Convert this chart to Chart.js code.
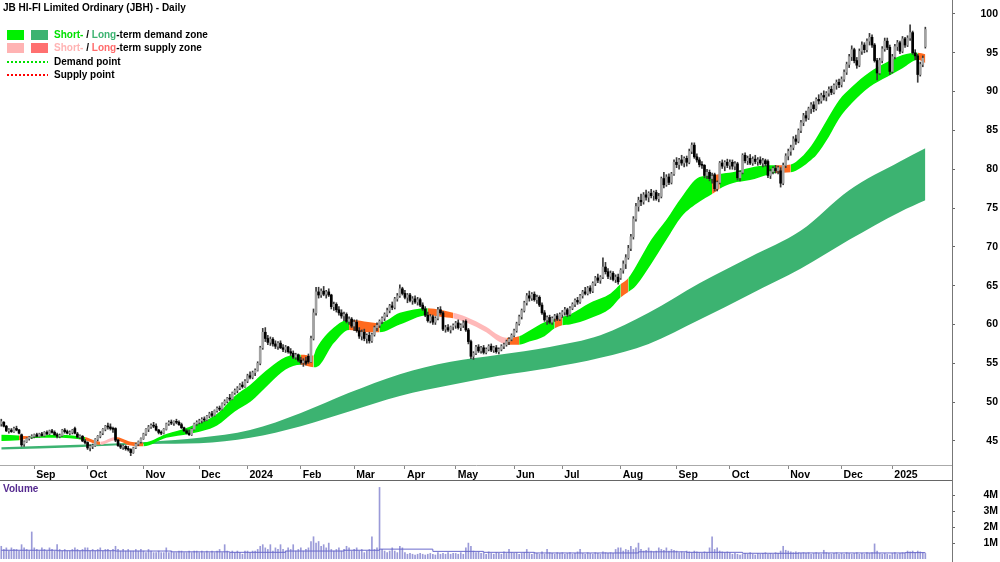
<!DOCTYPE html>
<html>
<head>
<meta charset="utf-8">
<script src="https://cdn.jsdelivr.net/npm/chart.js@4.4.1/dist/chart.umd.min.js"></script>
<style>
  html, body { margin: 0; padding: 0; background: #fff; }
  #wrap { position: relative; width: 1000px; height: 562px; overflow: hidden; font-family: "Liberation Sans", Arial, sans-serif; }
  canvas { position: absolute; left: 0; }
  #price { top: 0; }
  #volume { top: 481px; }
  .txt { position: absolute; font-weight: bold; font-size: 10px; line-height: 12px; white-space: nowrap; color: #000; }
  .sw { position: absolute; width: 17px; height: 10px; }
  .dots { position: absolute; width: 41px; height: 2px; }
</style>
</head>
<body>
<div id="wrap">
  <canvas id="price" width="1000" height="481"></canvas>
  <canvas id="volume" width="1000" height="81"></canvas>
  <div style="position:absolute;left:952px;top:0;width:1px;height:562px;background:#777"></div>
  <div style="position:absolute;left:0;top:480px;width:952px;height:1px;background:#666"></div>

  <div class="txt" style="left:3px;top:2px">JB HI-FI Limited Ordinary (JBH) - Daily</div>
  <div class="sw" style="left:7px;top:30px;background:#00f000"></div>
  <div class="sw" style="left:31px;top:30px;background:#3cb371"></div>
  <div class="txt" style="left:54px;top:29px"><span style="color:#00e000">Short-</span> / <span style="color:#3cb371">Long</span>-term demand zone</div>
  <div class="sw" style="left:7px;top:43px;background:#ffb3b3"></div>
  <div class="sw" style="left:31px;top:43px;background:#ff7070"></div>
  <div class="txt" style="left:54px;top:42px"><span style="color:#ffb3b3">Short-</span> / <span style="color:#ff6b6b">Long</span>-term supply zone</div>
  <div class="dots" style="left:7px;top:61px;background:repeating-linear-gradient(90deg,#00e000 0 2px,transparent 2px 4px)"></div>
  <div class="txt" style="left:54px;top:56px">Demand point</div>
  <div class="dots" style="left:7px;top:74px;background:repeating-linear-gradient(90deg,#ff0000 0 2px,transparent 2px 4px)"></div>
  <div class="txt" style="left:54px;top:69px">Supply point</div>
  <div class="txt" style="left:3px;top:483px;color:#552a8f">Volume</div>
</div>

<script>
// Daily candles, 15 Aug 2023 .. 21 Jan 2025 (index = trading day)
const opens = [
  47.2,47.4,46.9,46.3,46.4,46.2,46.6,46.4,45.8,44.6,44.9,45.3,45.5,
  45.6,45.8,45.6,45.9,45.7,46.1,45.9,46.3,46.1,45.8,45.6,45.7,46.4,46.2,46.0,46.1,46.6,45.9,45.5,45.6,45.0,
  44.8,44.1,44.3,44.4,45.2,45.6,46.0,46.5,46.9,46.8,46.6,46.6,45.1,44.4,44.2,44.3,44.0,43.9,43.5,44.1,44.6,44.9,
  45.3,45.9,46.5,46.8,47.0,46.9,46.4,46.1,46.0,46.5,47.2,47.4,47.3,47.5,47.4,47.1,46.7,46.3,46.0,45.8,46.5,47.2,
  47.4,47.6,47.8,47.7,48.2,48.5,48.3,48.9,49.2,49.1,49.8,50.1,50.5,50.4,51.2,51.5,51.8,52.2,52.0,
  52.7,53.4,53.2,53.8,54.1,55.0,57.0,59.0,58.2,57.7,58.1,57.5,57.2,57.6,57.0,56.8,57.1,56.5,56.3,55.8,56.1,
  55.4,55.1,55.3,55.9,55.2,58.2,61.5,64.2,63.8,64.3,63.9,64.2,63.8,62.3,62.6,61.9,61.5,61.1,61.3,60.4,60.7,
  59.8,60.3,59.2,58.5,59.0,58.2,58.6,57.9,58.7,59.6,59.9,60.4,60.8,61.3,61.8,62.4,62.2,63.3,63.7,64.6,
  64.0,63.5,63.8,63.1,63.3,62.9,63.2,62.5,62.0,61.2,60.5,61.0,60.3,60.8,61.9,61.5,59.4,59.6,59.3,59.7,
  59.9,60.2,59.6,59.9,60.4,59.3,57.8,55.9,56.3,57.1,56.6,57.0,56.4,56.8,57.2,56.7,57.0,56.5,56.8,57.2,57.4,57.8,58.1,
  58.6,59.2,60.1,61.0,61.8,62.8,63.7,63.4,63.9,63.2,63.5,62.5,61.5,60.6,60.9,60.3,60.8,61.1,60.7,
  61.3,61.6,61.9,61.3,62.1,62.6,63.1,62.9,63.7,64.2,64.0,64.7,64.3,65.3,66.0,65.7,66.1,67.4,66.8,66.2,66.6,65.8,66.1,
  66.0,67.0,67.8,68.6,69.8,71.3,73.6,75.2,76.0,75.8,76.7,76.4,76.9,76.6,77.0,76.2,76.5,78.8,78.0,79.0,78.3,79.4,
  80.9,80.6,81.2,80.8,81.4,80.9,82.3,83.1,81.6,81.2,80.6,80.5,79.2,79.6,78.8,79.3,77.5,78.3,80.8,80.4,80.9,
  80.5,80.9,80.4,80.7,78.9,79.6,81.8,81.1,81.4,80.8,81.3,81.0,81.2,80.8,81.1,81.0,79.2,79.7,80.1,79.8,79.8,78.2,80.5,
  81.7,82.3,82.8,83.9,83.6,85.0,86.0,86.9,86.6,87.8,88.3,87.8,89.0,88.8,89.5,89.3,89.8,90.3,89.9,90.8,91.2,
  90.9,91.6,92.5,93.5,94.5,95.4,94.0,93.4,95.2,96.0,95.4,96.5,97.0,96.0,94.0,92.4,94.0,95.5,96.5,95.7,
  92.6,94.5,95.8,96.3,95.2,96.8,96.0,96.9,97.6,95.0,94.6,92.2,93.5,95.8
];
const highs = [
  47.8,47.5,47.0,46.6,46.6,46.8,46.9,46.5,45.9,45.0,45.4,45.6,45.8,
  45.9,46.0,46.0,46.1,46.2,46.3,46.4,46.5,46.3,46.0,45.9,46.5,46.6,46.4,46.3,46.5,46.8,46.1,45.8,45.7,45.2,
  44.9,44.5,44.6,45.3,45.7,46.2,46.6,47.0,47.3,47.2,46.8,46.7,45.2,44.6,44.5,44.4,44.3,44.0,44.2,44.7,45.0,45.4,
  46.0,46.6,47.0,47.2,47.4,47.2,46.5,46.3,46.6,47.3,47.6,47.7,47.6,47.8,47.6,47.3,46.8,46.5,46.4,46.6,47.3,47.6,
  47.8,48.0,48.1,48.3,48.7,48.8,49.0,49.4,49.5,49.9,50.3,50.6,51.0,51.3,51.7,52.0,52.4,52.6,52.9,
  53.6,53.9,54.0,54.3,55.2,57.2,59.5,59.6,58.6,58.4,58.3,57.9,57.8,57.9,57.4,57.3,57.2,56.9,56.6,56.3,56.2,
  55.8,55.6,55.8,56.2,58.5,62.0,64.8,64.8,64.6,64.9,64.4,64.6,63.9,62.9,62.8,62.3,61.9,61.6,61.5,61.0,60.9,
  60.6,60.6,59.6,59.3,59.4,58.8,59.0,58.9,59.8,60.2,60.6,61.0,61.5,62.1,62.6,62.9,63.5,64.0,65.1,64.8,
  64.4,64.0,64.0,63.6,63.7,63.5,63.4,62.8,62.3,61.6,61.3,61.2,61.0,62.2,62.3,61.7,59.9,60.0,59.8,60.1,
  60.4,60.6,60.1,60.5,60.6,59.5,58.0,56.5,57.3,57.4,57.2,57.3,57.0,57.4,57.5,57.2,57.3,57.0,57.4,57.6,58.0,58.3,58.8,
  59.4,60.3,61.2,62.0,63.0,64.0,64.3,64.1,64.2,63.8,63.7,62.8,61.8,61.1,61.2,61.0,61.3,61.4,61.5,
  61.8,62.2,62.1,62.3,62.8,63.3,63.5,63.9,64.4,64.8,64.9,65.0,65.5,66.2,66.5,66.3,68.6,68.0,67.2,66.9,66.8,66.4,66.5,
  67.2,68.2,69.0,70.2,71.6,73.9,75.6,76.4,76.8,77.0,77.3,77.1,77.4,77.2,77.3,76.9,79.0,79.6,79.3,79.4,79.6,81.2,
  81.5,81.4,81.8,81.6,81.7,82.6,83.4,83.4,82.0,81.5,81.0,80.6,80.0,79.9,79.5,79.5,78.5,81.0,81.2,81.1,81.3,
  81.2,81.2,81.0,80.9,79.8,82.0,82.1,81.7,81.9,81.6,81.8,81.5,81.6,81.4,81.3,81.2,80.0,80.3,80.5,80.4,80.2,80.8,82.0,
  82.6,83.1,84.2,84.4,85.2,86.3,87.2,87.5,88.0,88.6,88.7,89.2,89.6,89.8,90.1,90.0,90.6,90.7,91.0,91.5,91.6,
  91.9,92.8,93.8,94.8,95.9,95.6,94.4,95.5,96.4,96.3,96.8,97.5,97.3,96.2,94.3,94.3,95.8,96.9,96.9,96.0,
  94.8,96.1,96.6,96.5,97.1,97.0,97.2,98.6,97.8,95.4,94.8,93.8,94.6,98.3
];
const lows = [
  46.9,46.8,46.2,46.0,46.1,46.1,46.3,45.9,44.3,44.3,44.8,45.1,45.3,
  45.4,45.5,45.5,45.6,45.6,45.8,45.8,46.0,45.7,45.4,45.4,45.6,46.0,45.9,45.8,45.9,45.9,45.4,45.3,44.9,44.6,
  43.9,43.7,44.0,44.3,45.0,45.4,45.8,46.3,46.5,46.4,46.1,44.9,44.3,44.0,43.9,43.8,43.7,43.1,43.4,44.0,44.4,44.7,
  45.2,45.7,46.2,46.6,46.7,46.3,45.9,45.8,45.9,46.4,47.0,47.1,47.0,47.2,47.0,46.6,46.2,45.9,45.7,45.7,46.4,47.0,
  47.2,47.3,47.5,47.6,48.0,48.1,48.2,48.7,48.9,49.0,49.6,49.9,50.2,50.3,51.0,51.2,51.6,51.8,51.9,
  52.5,53.0,53.0,53.4,54.0,54.8,56.8,57.8,57.4,57.3,57.2,56.9,56.8,56.9,56.5,56.4,56.3,56.0,55.6,55.5,55.2,
  54.9,54.6,54.8,55.0,55.1,58.0,61.2,63.4,63.5,63.7,63.4,63.6,62.0,61.8,61.6,61.2,60.8,60.5,60.2,60.0,59.6,
  59.2,59.0,58.2,58.0,57.9,57.6,57.6,57.7,58.5,59.2,59.6,60.1,60.5,61.0,61.5,61.9,62.0,63.0,63.5,63.8,
  63.3,62.8,62.9,62.6,62.7,62.5,62.3,61.8,61.0,60.3,60.2,60.0,60.0,60.6,61.3,59.2,59.0,59.1,58.9,59.3,
  59.5,59.4,59.2,59.6,59.1,57.5,55.6,55.5,56.1,56.4,56.3,56.2,56.2,56.6,56.5,56.4,56.3,56.2,56.6,56.9,57.2,57.4,57.9,
  58.4,59.0,59.9,60.7,61.6,62.5,63.0,63.1,63.0,62.7,62.3,61.3,60.4,60.0,60.1,60.0,60.4,60.5,60.5,
  60.9,61.2,61.0,61.1,61.9,62.3,62.6,62.7,63.4,63.8,63.8,64.0,64.1,65.0,65.4,65.3,65.9,66.5,65.9,65.8,65.6,65.4,65.2,
  65.8,66.6,67.2,68.4,69.5,71.0,73.3,74.6,75.3,75.5,76.0,75.8,76.3,76.0,76.0,75.8,76.3,77.6,77.8,78.0,78.1,79.2,
  80.2,80.0,80.5,80.3,80.4,80.7,82.0,81.4,80.9,80.3,80.1,78.9,78.8,78.5,78.2,77.2,77.2,78.1,80.1,79.8,80.2,
  80.0,80.0,79.9,78.6,78.5,79.4,80.8,80.6,80.6,80.5,80.7,80.5,80.6,80.3,80.4,78.9,78.8,79.4,79.5,79.4,77.7,78.0,80.2,
  81.2,81.8,82.5,83.2,83.4,84.7,85.6,86.2,86.4,87.2,87.4,87.6,88.4,88.5,88.9,88.8,89.4,89.6,89.7,90.3,90.5,
  90.6,91.3,92.2,93.1,94.0,93.7,93.0,93.2,94.8,95.0,95.1,96.0,95.7,93.8,91.5,92.2,93.7,95.2,95.4,92.2,
  92.4,94.2,95.3,94.9,95.0,95.7,95.8,96.6,94.8,94.1,91.2,92.0,93.2,95.6
];
const closes = [
  47.5,46.9,46.3,46.4,46.2,46.6,46.4,46.0,44.5,44.9,45.3,45.5,45.6,
  45.8,45.6,45.9,45.7,46.1,45.9,46.3,46.1,45.8,45.6,45.7,46.4,46.2,46.0,46.1,46.4,46.0,45.5,45.6,45.0,44.8,
  44.1,44.3,44.4,45.2,45.6,46.0,46.5,46.9,46.8,46.6,46.5,45.1,44.4,44.2,44.3,44.0,43.9,43.5,44.1,44.6,44.9,45.3,
  45.9,46.5,46.8,47.0,46.9,46.4,46.1,46.0,46.5,47.2,47.4,47.3,47.5,47.4,47.1,46.7,46.3,46.0,45.8,46.5,47.2,47.4,
  47.6,47.8,47.7,48.2,48.5,48.3,48.9,49.2,49.1,49.8,50.1,50.5,50.4,51.2,51.5,51.8,52.2,52.0,52.7,
  53.4,53.2,53.8,54.1,55.0,57.0,59.0,58.2,57.7,58.1,57.5,57.2,57.6,57.0,56.8,57.1,56.5,56.3,55.8,56.1,55.4,
  55.1,55.3,55.0,55.2,58.2,61.5,64.2,63.8,64.3,63.9,64.2,63.8,62.3,62.6,61.9,61.5,61.1,61.3,60.4,60.7,59.8,
  60.3,59.2,58.5,59.0,58.2,58.6,57.9,58.7,59.6,59.9,60.4,60.8,61.3,61.8,62.4,62.2,63.3,63.7,64.6,64.0,
  63.5,63.8,63.1,63.3,62.9,63.2,62.5,62.0,61.2,60.5,61.0,60.3,60.8,61.9,61.5,59.4,59.6,59.3,59.7,59.9,
  60.2,59.6,59.9,60.2,59.3,57.8,55.9,56.3,57.1,56.6,57.0,56.4,56.8,57.2,56.7,57.0,56.5,56.8,57.2,57.4,57.8,58.1,58.6,
  59.2,60.1,61.0,61.8,62.8,63.7,63.4,63.9,63.2,63.5,62.5,61.5,60.6,60.9,60.3,60.8,61.1,60.7,61.3,
  61.6,61.9,61.3,62.1,62.6,63.1,62.9,63.7,64.2,64.0,64.7,64.3,65.3,66.0,65.7,66.1,67.4,66.8,66.2,66.6,65.8,66.1,65.5,
  67.0,67.8,68.6,69.8,71.3,73.6,75.2,76.0,75.8,76.7,76.4,76.9,76.6,77.0,76.2,76.5,78.8,78.0,79.0,78.3,79.4,80.9,
  80.6,81.2,80.8,81.4,80.9,82.3,83.1,81.6,81.2,80.6,80.5,79.2,79.6,78.8,79.1,77.5,78.3,80.8,80.4,80.9,80.5,
  80.9,80.4,80.7,78.9,79.6,81.8,81.1,81.4,80.8,81.3,81.0,81.2,80.8,81.1,80.7,79.2,79.7,80.1,79.8,80.2,78.2,80.5,81.7,
  82.3,82.8,83.9,83.6,85.0,86.0,86.9,86.6,87.8,88.3,87.8,89.0,88.8,89.5,89.3,89.8,90.3,89.9,90.8,91.2,90.9,
  91.6,92.5,93.5,94.5,95.4,94.0,93.4,95.2,96.0,95.4,96.5,97.0,96.0,94.0,92.4,94.0,95.5,96.5,95.7,92.6,
  94.5,95.8,96.3,95.2,96.8,96.0,96.9,97.6,95.0,94.6,92.2,93.5,94.3,98.0
];
// volume, millions of shares
const volumes = [
  0.8,0.6,0.7,0.5,0.7,0.6,0.6,0.5,0.9,0.7,0.6,0.5,1.7,
  0.7,0.6,0.5,0.7,0.6,0.5,0.7,0.6,0.5,0.9,0.6,0.5,0.6,0.5,0.5,0.6,0.7,0.6,0.5,0.6,0.7,
  0.7,0.5,0.6,0.5,0.6,0.7,0.5,0.6,0.6,0.5,0.6,0.8,0.6,0.5,0.6,0.5,0.6,0.5,0.5,0.6,0.5,0.6,
  0.5,0.4,0.6,0.5,0.4,0.4,0.5,0.4,0.4,0.7,0.4,0.5,0.4,0.4,0.5,0.5,0.4,0.4,0.5,0.4,0.5,0.5,
  0.4,0.5,0.4,0.5,0.4,0.5,0.4,0.5,0.6,0.4,0.9,0.5,0.4,0.5,0.4,0.5,0.4,0.3,0.5,
  0.5,0.4,0.5,0.5,0.6,0.8,0.9,0.7,0.6,0.9,0.5,0.7,0.6,0.9,0.6,0.5,0.7,0.6,0.9,0.5,0.6,
  0.7,0.5,0.6,0.7,1.1,1.4,1.0,1.1,0.8,0.9,0.7,1.0,0.6,0.5,0.6,0.7,0.5,0.6,0.8,0.7,0.5,
  0.6,0.7,0.5,0.6,0.4,0.5,0.6,1.4,0.6,0.7,4.5,0.6,0.5,0.4,0.5,0.7,0.5,0.4,0.8,0.7,
  0.4,0.3,0.35,0.3,0.25,0.3,0.35,0.3,0.25,0.3,0.35,0.3,0.25,0.4,0.3,0.35,0.3,0.4,0.3,0.35,
  0.35,0.3,0.4,0.3,0.7,1.0,0.8,0.5,0.4,0.45,0.35,0.4,0.3,0.45,0.35,0.3,0.4,0.35,0.3,0.45,0.35,0.6,0.4,
  0.35,0.4,0.3,0.35,0.4,0.6,0.35,0.3,0.4,0.35,0.3,0.45,0.3,0.6,0.4,0.35,0.3,0.4,0.35,
  0.4,0.3,0.35,0.4,0.3,0.35,0.45,0.6,0.35,0.3,0.4,0.35,0.3,0.4,0.35,0.3,0.45,0.4,0.35,0.4,0.35,0.6,0.7,
  0.7,0.5,0.6,0.55,0.8,0.6,0.7,1.0,0.6,0.5,0.55,0.7,0.5,0.45,0.5,0.7,0.6,0.55,0.7,0.5,0.6,0.55,
  0.5,0.4,0.45,0.4,0.5,0.45,0.4,0.5,0.45,0.4,0.35,0.45,0.4,0.7,1.4,0.6,0.7,0.5,0.45,0.4,0.45,
  0.4,0.3,0.35,0.3,0.25,0.3,0.35,0.3,0.4,0.3,0.25,0.35,0.3,0.35,0.4,0.3,0.35,0.3,0.4,0.35,0.5,0.8,0.55,
  0.5,0.45,0.4,0.45,0.4,0.35,0.4,0.35,0.4,0.3,0.35,0.4,0.35,0.3,0.55,0.4,0.35,0.3,0.35,0.4,0.3,
  0.35,0.3,0.4,0.35,0.3,0.35,0.4,0.3,0.35,0.3,0.4,0.35,0.4,0.95,0.5,0.35,0.3,0.35,0.3,0.25,
  0.35,0.4,0.3,0.35,0.4,0.35,0.5,0.45,0.5,0.4,0.5,0.45,0.4,0.35
];

// volume average line (trading-day index, millions)
const volAvgX = [0, 22, 45, 67, 90, 112, 135, 149, 170, 190, 210, 232, 251, 270, 292, 314, 336, 356, 364];
const volAvg  = [0.55, 0.52, 0.5, 0.45, 0.42, 0.5, 0.55, 0.62, 0.48, 0.42, 0.38, 0.38, 0.45, 0.42, 0.36, 0.38, 0.38, 0.4, 0.4];

// short-term zone: sample index, upper/lower edge, state of the stretch that starts there
// d = demand, o = long-term supply, p = short-term supply
const stX     = [0, 7, 11, 21, 33, 39, 45, 51, 56, 65, 74, 85, 92, 98, 102, 106, 112, 118, 123, 124, 131, 137, 143, 149, 157, 168, 173, 178, 183, 191, 196, 199, 204, 208, 214, 218, 221, 224, 232, 240, 244, 247, 250, 256, 262, 268, 275, 280, 283, 288, 295, 302, 305, 311, 315, 319, 321, 326, 330, 335, 342, 349, 355, 361, 364];
const stUpper = [45.8, 45.7, 45.6, 45.8, 45.5, 44.9, 45.5, 44.9, 44.8, 45.9, 46.8, 48.5, 50.8, 52.2, 53.4, 54.5, 55.8, 56.1, 56.0, 56.8, 59.6, 60.6, 60.4, 60.2, 61.5, 62.1, 61.9, 61.5, 61.0, 59.7, 58.6, 58.3, 58.5, 59.2, 60.3, 60.7, 61.0, 61.3, 62.8, 64.0, 65.2, 66.0, 67.5, 70.9, 73.5, 76.4, 79.0, 79.2, 79.4, 79.6, 80.2, 80.5, 80.5, 80.6, 81.5, 83.0, 84.0, 86.8, 88.9, 90.6, 92.5, 93.8, 94.7, 95.0, 94.8];
const stLower = [45.0, 45.1, 45.3, 45.4, 45.1, 44.5, 45.1, 44.4, 44.3, 45.4, 45.9, 47.0, 48.8, 50.0, 51.2, 52.5, 54.2, 54.8, 54.5, 54.5, 57.6, 59.3, 59.0, 59.0, 60.0, 61.2, 61.0, 60.8, 60.3, 59.0, 57.8, 57.4, 57.4, 57.8, 58.5, 59.5, 59.9, 60.0, 60.8, 62.1, 63.5, 64.2, 65.0, 67.8, 70.9, 73.9, 75.8, 76.8, 77.5, 78.2, 78.6, 79.3, 79.5, 79.6, 80.2, 81.2, 81.8, 84.2, 86.5, 88.5, 90.6, 91.9, 93.0, 94.1, 93.7];
const stState = ['d','o','d','d','o','p','o','o','d','d','d','d','d','d','d','d','d','o','d','d','d','o','o','d','d','o','o','p','p','p','p','o','d','d','d','o','d','d','d','d','o','d','d','d','d','d','d','o','d','d','d','d','o','d','d','d','d','d','d','d','d','d','d','o','o'];

// long-term demand zone
const ltX     = [0, 30, 59, 78, 98, 118, 137, 157, 177, 196, 216, 236, 255, 275, 295, 315, 334, 354, 364];
const ltUpper = [44.2, 44.5, 44.9, 45.4, 46.4, 48.6, 51.2, 53.6, 55.2, 56.1, 57.1, 58.6, 61.5, 65.3, 68.7, 72.1, 77.3, 81.0, 82.7];
const ltLower = [43.9, 44.2, 44.6, 44.7, 45.4, 46.9, 48.8, 50.8, 52.2, 53.4, 54.4, 55.7, 57.5, 60.6, 63.9, 67.2, 70.9, 74.5, 76.0];

// axis ticks
const monthTicks  = [13, 34, 56, 78, 97, 118, 139, 159, 179, 202, 221, 244, 266, 287, 310, 331, 351];
const monthLabels = ['Sep', 'Oct', 'Nov', 'Dec', '2024', 'Feb', 'Mar', 'Apr', 'May', 'Jun', 'Jul', 'Aug', 'Sep', 'Oct', 'Nov', 'Dec', '2025'];
const priceTicks  = [45, 50, 55, 60, 65, 70, 75, 80, 85, 90, 95, 100];
const volumeTicks = [1, 2, 3, 4];

Chart.defaults.font.family = '"Liberation Sans", Arial, sans-serif';
Chart.defaults.color = '#000';

const X_MIN = -0.5, X_MAX = 374.5;
const axisFont = { size: 10.5, weight: 'bold' };
const zoneColors = { d: '#00f000', o: '#ff6a1f', p: '#ffb9b9' };
const upCandle = i => closes[i] >= opens[i];
const pts = (xs, ys) => xs.map((x, k) => ({ x: x, y: ys[k] }));

function bandLine(data, extra) {
    return Object.assign({
        type: 'line',
        data: data,
        borderWidth: 0,
        borderColor: 'rgba(0,0,0,0)',
        pointRadius: 0,
        cubicInterpolationMode: 'monotone',
        fill: false
    }, extra);
}

function fixedY(width) {
    return function (scale) {
        scale.width = width;
        scale.paddingTop = 0;
        scale.paddingBottom = 0;
    };
}

const days = closes.map((_, i) => i);

new Chart(document.getElementById('price'), {
    type: 'bar',
    data: {
        datasets: [
            bandLine(pts(ltX, ltUpper), { fill: '+1', backgroundColor: '#3cb371', order: 5 }),
            bandLine(pts(ltX, ltLower), { order: 5 }),
            bandLine(pts(stX, stUpper), {
                fill: '+1',
                backgroundColor: zoneColors.d,
                segment: { backgroundColor: c => zoneColors[stState[c.p0DataIndex]] },
                order: 4
            }),
            bandLine(pts(stX, stLower), { order: 4 }),
            {
                type: 'bar',
                data: days.map(i => ({ x: i, y: [lows[i], highs[i]] })),
                barThickness: 1,
                backgroundColor: '#3a3a3a',
                grouped: false,
                minBarLength: 1,
                order: 1
            },
            {
                type: 'bar',
                data: days.map(i => ({ x: i, y: [opens[i], closes[i]] })),
                barThickness: 2,
                backgroundColor: c => upCandle(c.dataIndex) ? '#a2a2a2' : '#000',
                grouped: false,
                minBarLength: 1,
                order: 0
            }
        ]
    },
    options: {
        responsive: false,
        animation: false,
        events: [],
        layout: { padding: { left: 0, right: 2, top: 0, bottom: 0 } },
        plugins: { legend: { display: false }, tooltip: { enabled: false } },
        scales: {
            x: {
                type: 'linear',
                min: X_MIN,
                max: X_MAX,
                offset: false,
                afterBuildTicks: s => { s.ticks = monthTicks.map(v => ({ value: v })); },
                afterFit: s => { s.height = 16; s.paddingLeft = 0; s.paddingRight = 0; },
                ticks: {
                    autoSkip: false,
                    maxRotation: 0,
                    minRotation: 0,
                    align: 'start',
                    labelOffset: 2,
                    padding: 0,
                    font: axisFont,
                    callback: v => monthLabels[monthTicks.indexOf(v)]
                },
                grid: { offset: false, drawOnChartArea: false, tickLength: 4, color: '#888' },
                border: { display: true, color: '#aaa' }
            },
            y: {
                position: 'right',
                min: 41.9,
                max: 101.8,
                afterBuildTicks: s => { s.ticks = priceTicks.map(v => ({ value: v })); },
                afterFit: fixedY(46),
                ticks: { crossAlign: 'far', padding: 0, font: axisFont, callback: v => String(v) },
                grid: { drawOnChartArea: false, tickLength: 3, color: '#666' },
                border: { display: false }
            }
        }
    }
});

new Chart(document.getElementById('volume'), {
    type: 'bar',
    data: {
        datasets: [
            {
                type: 'line',
                data: pts(volAvgX, volAvg),
                stepped: true,
                borderColor: '#6a6acc',
                borderWidth: 1,
                pointRadius: 0,
                fill: false,
                order: 0
            },
            {
                type: 'bar',
                data: days.map(i => ({ x: i, y: volumes[i] })),
                barThickness: 1,
                backgroundColor: '#9a9ad8',
                grouped: false,
                order: 1
            }
        ]
    },
    options: {
        responsive: false,
        animation: false,
        events: [],
        layout: { padding: { left: 0, right: 2, top: 1, bottom: 3 } },
        plugins: { legend: { display: false }, tooltip: { enabled: false } },
        scales: {
            x: { type: 'linear', min: X_MIN, max: X_MAX, offset: false, display: false },
            y: {
                position: 'right',
                min: 0,
                max: 4.84,
                afterBuildTicks: s => { s.ticks = volumeTicks.map(v => ({ value: v })); },
                afterFit: fixedY(46),
                ticks: { crossAlign: 'far', padding: 0, font: axisFont, callback: v => v + 'M' },
                grid: { drawOnChartArea: false, tickLength: 3, color: '#666' },
                border: { display: false }
            }
        }
    }
});
</script>
</body>
</html>
